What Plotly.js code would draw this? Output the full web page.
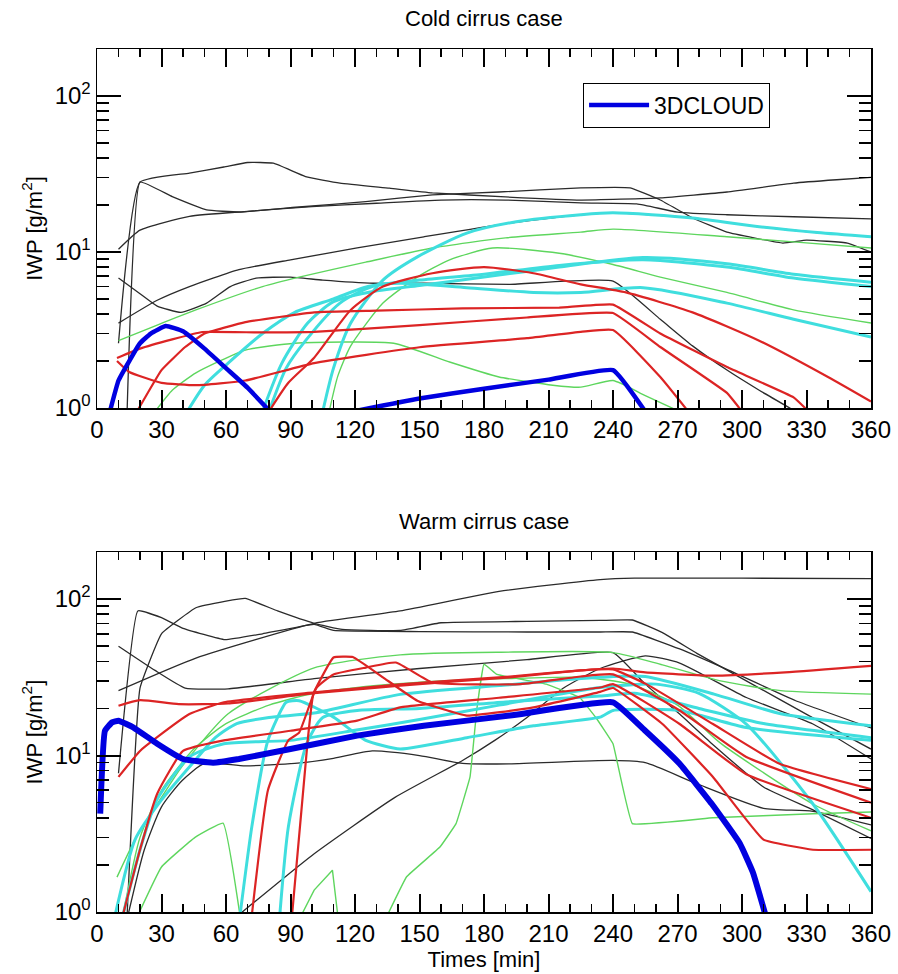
<!DOCTYPE html>
<html>
<head>
<meta charset="utf-8">
<script src="https://cdn.plot.ly/plotly-3.0.1.min.js"></script>
<style>html,body{margin:0;padding:0;background:#fff;}#chart{width:898px;height:974px;}</style>
</head>
<body>
<div id="chart"></div>
<script>
// ---------- Tick labels ----------
const xTickVals = [0,30,60,90,120,150,180,210,240,270,300,330,360];
const yTickVals = [1,10,100];
const yTickText = ['10<sup>0</sup>','10<sup>1</sup>','10<sup>2</sup>'];
const yMinorVals = [2,3,4,5,6,7,8,9,20,30,40,50,60,70,80,90,200];

// ---------- Cold cirrus case (top) ----------
const coldBlueT = [6,10,15,20,25,32,40,50,60,70,80.5,null,119,150,180,210,240,255];
const coldBlueV = [0.95,1.5,2.0,2.6,3.0,3.35,3.1,2.4,1.8,1.35,0.95,null,0.95,1.15,1.33,1.52,1.75,0.95];

const coldK1T = [10,20,43,59,70,82,97,113,136,156,190,225,262,293,324,344,360];
const coldK1V = [2.6,28,32,35,37.4,37,30.4,27.6,25.6,23.9,22.5,21.5,22.2,24.2,27.6,29,30];
const coldK2T = [14,20,35,51,66,94,125,156,187,225,248,262,277,293,319,330,349,360];
const coldK2V = [0.95,28,22.6,18.6,18,19.4,21,23.2,24.2,25.7,25.7,21.5,16.5,13.4,11.4,11.9,11.4,10];
const coldK3T = [10,20,43,70,100,130,160,190,225,251,270,293,324,360];
const coldK3V = [10.4,13.8,16.9,18.2,19.5,20.5,21.5,21.5,20.6,20.3,18,17.3,16.8,16.3];
const coldK4T = [10,28,43,66,90,121,152,192,225,240,277,308,335,360];
const coldK4V = [3.5,4.9,6.0,7.7,8.9,10.6,12.5,15.3,17.3,17.8,16.5,14.5,13.3,12.5];
const coldK5T = [10,20,28,39,51,62,74,90,105,129,152,192,240,262,277,293,308,325];
const coldK5V = [6.8,5.4,4.5,4.1,4.7,6.0,6.8,6.9,6.6,6.3,6.3,6.2,6.5,3.7,2.5,1.75,1.3,0.95];

const coldG1T = [10,28,46,77,94,125,156,190,225,240,293,324,360];
const coldG1V = [2.7,3.4,4.25,6.0,6.9,8.6,10.6,12.3,13.4,14,12.5,11.6,10.6];
const coldG2T = [108,112,118,133,149,164,184,215,240,262,293,324,360];
const coldG2V = [0.95,1.6,2.5,4.7,6.9,8.9,10.6,9.8,8.3,6.9,5.5,4.25,3.5];
const coldG3T = [27,35,46,69,92,138,164,187,212,225,240,255,271];
const coldG3V = [0.95,1.3,1.68,2.35,2.6,2.6,1.97,1.58,1.4,1.36,1.5,1.2,0.95];

const coldC1T = [42,50,61,77,92,110,126,141,172,203,225,254,293,324,360];
const coldC1V = [0.95,1.4,1.94,3.0,4.1,5.0,6.0,6.3,5.9,5.5,5.5,5.9,4.7,3.7,2.85];
const coldC2T = [77,86,98,110,126,150,180,215,254,293,324,360];
const coldC2V = [0.95,1.94,3.5,4.8,5.5,6.1,6.9,8.0,9.2,8.4,7.2,6.4];
const coldC3T = [80,88,97,113,128,150,180,215,254,293,324,360];
const coldC3V = [0.95,1.8,2.7,4.7,6.0,6.6,7.2,8.2,8.9,8.0,6.8,6.0];
const coldC4T = [105,110,118,133,149,172,195,225,240,277,308,335,360];
const coldC4V = [0.95,1.8,3.5,6.6,9.3,13.2,15.6,17.3,17.8,16.5,14.5,13.3,12.5];

const coldR1T = [80,89,101,118,133,156,180,203,225,246,277,308,340,360];
const coldR1V = [0.95,1.45,2.1,4.25,6.0,7.3,8.0,7.3,6.2,5.5,4.1,2.7,1.58,1.1];
const coldR2T = [18.6,30,41,50,69,101,130,170,215,240,262,293,324,331];
const coldR2V = [0.95,1.75,2.46,3.0,3.55,4.1,4.2,4.35,4.4,4.6,3.0,1.83,1.17,0.95];
const coldR3T = [9.3,20,35,49,75,101,150,200,240,262,293,300];
const coldR3V = [2.09,2.4,2.75,3.07,3.05,3.07,3.4,3.8,4.06,2.46,1.25,0.95];
const coldR4T = [9.3,15,30,46,69,101,150,200,225,240,262,275];
const coldR4V = [2.0,1.7,1.45,1.4,1.5,1.94,2.45,2.8,3.07,3.16,1.58,0.95];

// ---------- Warm cirrus case (bottom) ----------
const warmBlueT = [1.5,3.7,7,10,17,28,40,54,66,90,121,152,192,240,255,271,286,299,305,311];
const warmBlueV = [4.25,14.4,16.3,16.7,15.1,11.9,9.5,9.0,9.5,11,13.4,15.5,18,21.9,14.4,8.85,4.9,2.74,1.8,0.95];

const warmK1T = [10,46,101,141,187,234,250,300,360];
const warmK1V = [26,42,70,84,112,133,136,136,135];
const warmK2T = [14,20,30,46,60,69,84,101,114,141,160,200,234,249,263,279,302,333,360];
const warmK2V = [0.95,27,60,88,97,101,84,70,64,63,70.6,72,73,73.5,61,45,30,17.4,11];
const warmK3T = [10,19,30,40,59.5,77,101,110,150,200,234,249,271,294,325,360];
const warmK3V = [7.7,84,76,65,55,60,69,63,62,61.6,61.6,61.6,48,35,22.4,15];
const warmK4T = [10,27,41,61,101,150,200,240,255,271,286,310,333,360];
const warmK4V = [50,35,27,26.7,31,36,41,45.5,28.6,18.4,11.9,6.3,4.5,2.95];
const warmK5T = [14.4,22,30,39.5,50,69,92,110,128,150,170,192,240,255,279,310,333,360];
const warmK5V = [0.95,2.5,4.7,6.9,8.9,8.6,8.9,9.6,10.7,10,8.9,8.85,9.3,9.0,6.6,4.6,4.4,3.6];
const warmK6T = [65.6,100,138.6,170,185,200,217,234,255,271,302,333,360];
const warmK6V = [0.95,2.3,5.4,9.3,12.5,17.5,27,36,43.4,39,23.5,15.9,9.5];

const warmG1T = [9.3,17.7,30,39.5,61,101,141,187,240,263,290,318,360];
const warmG1V = [1.67,2.9,5.4,8.5,18.5,36.3,44,45.7,45.5,38,30,26,24.7];
const warmG2T = [19,30,45.6,58.6,66.5];
const warmG2V = [0.95,1.94,3.0,3.7,0.95];
const warmG3T = [95,101,109.5,112];
const warmG3V = [0.95,1.38,1.85,0.95];
const warmG4T = [135,144,159.5,167,173.5,176.6,180,186,209,224.5,232,240,249,286.5,333,360];
const warmG4V = [0.95,1.68,2.6,3.67,7.3,19.4,38.4,33,28.6,23.5,17.5,11.9,3.67,4.0,4.25,4.36];
const warmG5T = [12,20,30,45,60,80,101,130,160,190,225,248,270,290,333,360];
const warmG5V = [0.95,3,6,11,16,21,25,28,30,31,31.6,28.6,21,12,4.9,3.3];

const warmC1T = [8.4,17.7,30,45.6,55,65,80,101,141,187,234,255,287,318,360];
const warmC1V = [0.95,2.9,5.2,9.3,13,16,17.5,18.7,24.6,28,31.6,32,24.7,18.5,15.5];
const warmC2T = [12,20,27.8,43,59,90,120,150,187,234,260,280,302,333,360];
const warmC2V = [0.95,2.5,5.2,9.8,11.9,12.5,14.5,17,21,27.2,28.6,25,15.9,4.9,1.35];
const warmC3T = [66.5,72,79.5,88,94,110,125,141,172,203,234,240,271,302,360];
const warmC3V = [0.95,3.5,12.5,21.9,22.4,17.6,12.5,11,13,15.5,17.6,19.4,19.4,15.1,12.5];
const warmC4T = [85,89,97.5,105,121,150,190,234,250,280,310,360];
const warmC4V = [0.95,3.5,11.9,17.5,19.4,20,22,24,25,20,16,13];

const warmR1T = [10,20,38,61,101,141,192,225,240,255,287,320,360];
const warmR1V = [20.8,22.6,21.3,21.5,25,28,31.6,35,36,34,32.4,34,37.4];
const warmR2T = [72,79.5,89,94,102,110,125,139,156,197,225,240,271,302,360];
const warmR2V = [0.95,6,12.5,14,27,33,36.5,39.3,29.3,28.6,32,33,19.4,9.8,5.0];
const warmR3T = [90.7,98,100.6,110,119,133,149,172,203,234,240,263,286.5,310,333,360];
const warmR3V = [0.95,12.5,24.7,42.3,42.6,31.6,22.4,18,20.3,25.5,27,15.9,7.3,2.9,2.5,2.5];
const warmR4T = [10,20,28,43,59,101,141,192,225,240,255.5,286.5,317.5,360];
const warmR4V = [7.3,10.7,13.1,18.4,21.9,25.3,28.5,32,35,35.5,28.6,15.9,8.85,6.1];
const warmR5T = [12,20,28,40,59,90,121,141,187,234,240,271,302,360];
const warmR5V = [0.95,2.5,5.7,10.7,12.5,14.4,16.7,20.3,23.4,27.2,28.6,15.9,7.6,4.0];

// ---------- Styles ----------
const BLACK = '#2b2b2b', GREEN = '#5ed65e', CYAN = '#3fdede', RED = '#dc2424', BLUE = '#0000e0';
const FONT = 'Liberation Sans, Arial, Helvetica, sans-serif';

function line(t, v, color, width, panel, smooth, name, show) {
  const ln = {color: color, width: width};
  if (smooth) { ln.shape = 'spline'; ln.smoothing = smooth; }
  return {
    x: t, y: v, type: 'scatter', mode: 'lines', line: ln,
    xaxis: panel === 1 ? 'x' : 'x2', yaxis: panel === 1 ? 'y' : 'y2',
    name: name || '', showlegend: !!show, hoverinfo: 'skip'
  };
}

const traces = [
  // top
  line(coldK1T, coldK1V, BLACK, 1.3, 1, 0.4), line(coldK2T, coldK2V, BLACK, 1.3, 1, 0.3),
  line(coldK3T, coldK3V, BLACK, 1.3, 1, 0.5), line(coldK4T, coldK4V, BLACK, 1.3, 1, 0.5),
  line(coldK5T, coldK5V, BLACK, 1.3, 1, 0.4),
  line(coldG1T, coldG1V, GREEN, 1.4, 1, 0.6), line(coldG2T, coldG2V, GREEN, 1.4, 1, 0.6),
  line(coldG3T, coldG3V, GREEN, 1.4, 1, 0.5),
  line(coldC1T, coldC1V, CYAN, 3, 1, 0.7), line(coldC2T, coldC2V, CYAN, 3, 1, 0.7),
  line(coldC3T, coldC3V, CYAN, 3, 1, 0.7), line(coldC4T, coldC4V, CYAN, 3, 1, 0.7),
  line(coldR1T, coldR1V, RED, 2.2, 1, 0.6), line(coldR2T, coldR2V, RED, 2.2, 1, 0.3),
  line(coldR3T, coldR3V, RED, 2.2, 1, 0.3), line(coldR4T, coldR4V, RED, 2.2, 1, 0.4),
  line(coldBlueT, coldBlueV, BLUE, 4.5, 1, 0.35, '3DCLOUD', true),
  // bottom
  line(warmK1T, warmK1V, BLACK, 1.3, 2, 0.5), line(warmK2T, warmK2V, BLACK, 1.3, 2, 0.3),
  line(warmK3T, warmK3V, BLACK, 1.3, 2, 0.3), line(warmK4T, warmK4V, BLACK, 1.3, 2, 0.4),
  line(warmK5T, warmK5V, BLACK, 1.3, 2, 0.6), line(warmK6T, warmK6V, BLACK, 1.3, 2, 0.5),
  line(warmG1T, warmG1V, GREEN, 1.4, 2, 0.6), line(warmG2T, warmG2V, GREEN, 1.4, 2, 0.3),
  line(warmG3T, warmG3V, GREEN, 1.4, 2, 0), line(warmG4T, warmG4V, GREEN, 1.4, 2, 0.2),
  line(warmG5T, warmG5V, GREEN, 1.4, 2, 0.6),
  line(warmC1T, warmC1V, CYAN, 3, 2, 0.6), line(warmC2T, warmC2V, CYAN, 3, 2, 0.6),
  line(warmC3T, warmC3V, CYAN, 3, 2, 0.5), line(warmC4T, warmC4V, CYAN, 3, 2, 0.6),
  line(warmR1T, warmR1V, RED, 2.2, 2, 0.5), line(warmR2T, warmR2V, RED, 2.2, 2, 0.4),
  line(warmR3T, warmR3V, RED, 2.2, 2, 0.3), line(warmR4T, warmR4V, RED, 2.2, 2, 0.4),
  line(warmR5T, warmR5V, RED, 2.2, 2, 0.4),
  line(warmBlueT, warmBlueV, BLUE, 6, 2, 0.35)
];

function xAxis(anchor, withTitle) {
  const a = {
    anchor: anchor, domain: [0, 1], range: [0, 360],
    tickmode: 'array', tickvals: xTickVals,
    ticks: 'inside', ticklen: 18, tickwidth: 2, tickcolor: 'black',
    showline: true, linecolor: 'black', linewidth: 1.5, mirror: 'allticks',
    showgrid: false, zeroline: false,
    tickfont: {family: FONT, size: 24, color: 'black'},
    minor: {ticks: 'inside', ticklen: 8, tickwidth: 1.5, tickcolor: 'black', dtick: 10, tick0: 0, showgrid: false}
  };
  if (withTitle) a.title = {text: 'Times [min]', font: {family: FONT, size: 22, color: 'black'}, standoff: 4};
  return a;
}
function yAxis(anchor, domain) {
  return {
    anchor: anchor, domain: domain, type: 'log', range: [0, 2.3],
    tickmode: 'array', tickvals: yTickVals, ticktext: yTickText,
    ticks: 'inside', ticklen: 24, tickwidth: 2, tickcolor: 'black',
    showline: true, linecolor: 'black', linewidth: 1.5, mirror: 'allticks',
    showgrid: false, zeroline: false,
    tickfont: {family: FONT, size: 24, color: 'black'},
    minor: {ticks: 'inside', ticklen: 12, tickwidth: 1.5, tickcolor: 'black', tickmode: 'array', tickvals: yMinorVals, showgrid: false},
    title: {text: 'IWP [g/m<sup>2</sup>]', font: {family: FONT, size: 22, color: 'black'}, standoff: 6}
  };
}

const layout = {
  width: 898, height: 974,
  margin: {l: 97, r: 27, t: 49, b: 62},
  paper_bgcolor: 'white', plot_bgcolor: 'white',
  font: {family: FONT, color: 'black'},
  showlegend: true,
  legend: {x: 0.628, y: 0.961, xanchor: 'left', yanchor: 'top', bgcolor: 'white',
           bordercolor: 'black', borderwidth: 1, font: {family: FONT, size: 23, color: 'black'},
           itemwidth: 60},
  xaxis: xAxis('y', false),
  yaxis: yAxis('x', [0.584, 1]),
  xaxis2: xAxis('y2', true),
  yaxis2: yAxis('x2', [0, 0.417]),
  annotations: [
    {text: 'Cold cirrus case', xref: 'paper', yref: 'paper', x: 0.5, y: 1, yanchor: 'bottom', yshift: 16,
     showarrow: false, font: {family: FONT, size: 22, color: 'black'}},
    {text: 'Warm cirrus case', xref: 'paper', yref: 'paper', x: 0.5, y: 0.417, yanchor: 'bottom', yshift: 16,
     showarrow: false, font: {family: FONT, size: 22, color: 'black'}}
  ]
};

Plotly.newPlot('chart', traces, layout, {staticPlot: true, displayModeBar: false});
</script>
</body>
</html>
